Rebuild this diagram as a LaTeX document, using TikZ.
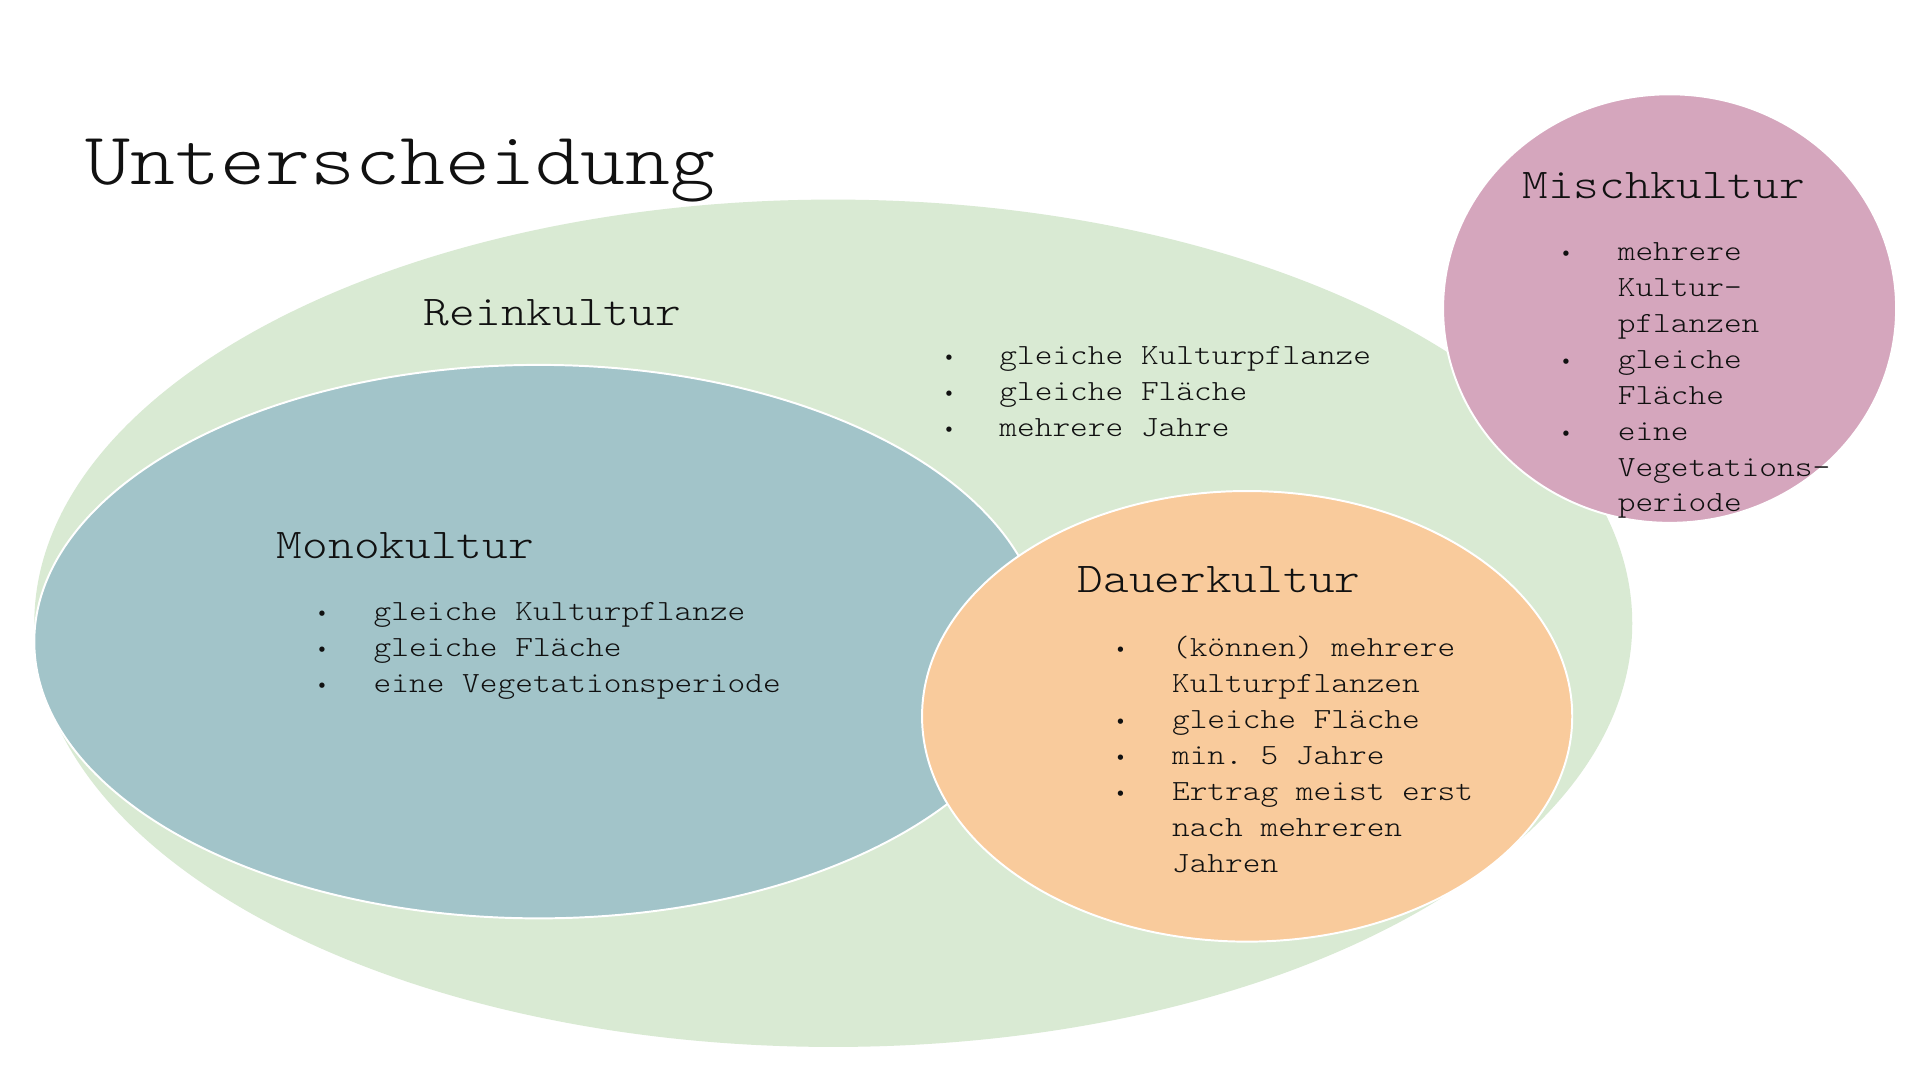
\documentclass[tikz,border=0pt]{standalone}
\usepackage{fontspec}
\setmonofont[FakeStretch=1.152]{Latin Modern Mono Light}
\newfontfamily\bulfont{DejaVu Sans}
\definecolor{cgreen}{HTML}{D9EAD3}
\definecolor{cblue}{HTML}{A2C4C9}
\definecolor{corange}{HTML}{F9CB9C}
\definecolor{cpink}{HTML}{D5A6BD}
\definecolor{ctext}{HTML}{111111}
\begin{document}
\begin{tikzpicture}[x=1pt,y=-1pt,
  body/.style={inner sep=0pt, anchor=base west, text=ctext, font=\ttfamily\fontsize{23.9}{29}\selectfont},
  head/.style={inner sep=0pt, anchor=base west, text=ctext, font=\ttfamily\fontsize{34.7}{40}\selectfont},
  bul/.style={inner sep=0pt, anchor=base, text=ctext, font=\bulfont\fontsize{15}{15}\selectfont},
  blob/.style={draw=white, line width=1.6pt}]
\useasboundingbox (0,0) rectangle (1568,882);
\fill[white] (0,0) rectangle (1568,882);
% shapes
\fill[cgreen] (680.5,509) ellipse [x radius=652.5, y radius=346];
\filldraw[blob, fill=cblue] (440,524) ellipse [x radius=412, y radius=226];
\filldraw[blob, fill=corange] (1018.5,585) ellipse [x radius=265.5, y radius=184];
\filldraw[blob, fill=cpink] (1363.5,252) ellipse [x radius=185, y radius=175];
% title
\node[inner sep=0pt, anchor=base west, text=ctext, font=\ttfamily\fontsize{60.7}{70}\selectfont] (title) at (70,151) {Unterscheidung};
% Reinkultur
\node[head] (rein) at (346,266) {Reinkultur};
\node[body] (r1) at (816,298) {gleiche Kulturpflanze};
\node[body] (r2) at (816,327.3) {gleiche Fläche};
\node[body] (r3) at (816,356.6) {mehrere Jahre};
\node[bul] (rb1) at (775,298) {•};
\node[bul] (rb2) at (775,327.3) {•};
\node[bul] (rb3) at (775,356.6) {•};
% Monokultur
\node[head] (mono) at (226,456) {Monokultur};
\node[body] (m1) at (305,507) {gleiche Kulturpflanze};
\node[body] (m2) at (305,536.4) {gleiche Fläche};
\node[body] (m3) at (305,565.8) {eine Vegetationsperiode};
\node[bul] (mb1) at (263,507) {•};
\node[bul] (mb2) at (263,536.4) {•};
\node[bul] (mb3) at (263,565.8) {•};
% Dauerkultur
\node[head] (dauer) at (880,484) {Dauerkultur};
\node[body] (d1) at (957,536) {(können) mehrere};
\node[body] (d2) at (957,565.4) {Kulturpflanzen};
\node[body] (d3) at (957,594.8) {gleiche Fläche};
\node[body] (d4) at (957,624.2) {min. 5 Jahre};
\node[body] (d5) at (957,653.6) {Ertrag meist erst};
\node[body] (d6) at (957,683) {nach mehreren};
\node[body] (d7) at (957,712.4) {Jahren};
\node[bul] (db1) at (915,536) {•};
\node[bul] (db3) at (915,594.8) {•};
\node[bul] (db4) at (915,624.2) {•};
\node[bul] (db5) at (915,653.6) {•};
% Mischkultur
\node[head] (misch) at (1243,162) {Mischkultur};
\node[body] (k1) at (1321,213) {mehrere};
\node[body] (k2) at (1321,242.3) {Kultur-};
\node[body] (k3) at (1321,271.6) {pflanzen};
\node[body] (k4) at (1321,300.9) {gleiche};
\node[body] (k5) at (1321,330.2) {Fläche};
\node[body] (k6) at (1321,359.5) {eine};
\node[body] (k7) at (1321,388.8) {Vegetations-};
\node[body] (k8) at (1321,418.1) {periode};
\node[bul] (kb1) at (1279,213) {•};
\node[bul] (kb4) at (1279,300.9) {•};
\node[bul] (kb6) at (1279,359.5) {•};
\end{tikzpicture}
\end{document}
